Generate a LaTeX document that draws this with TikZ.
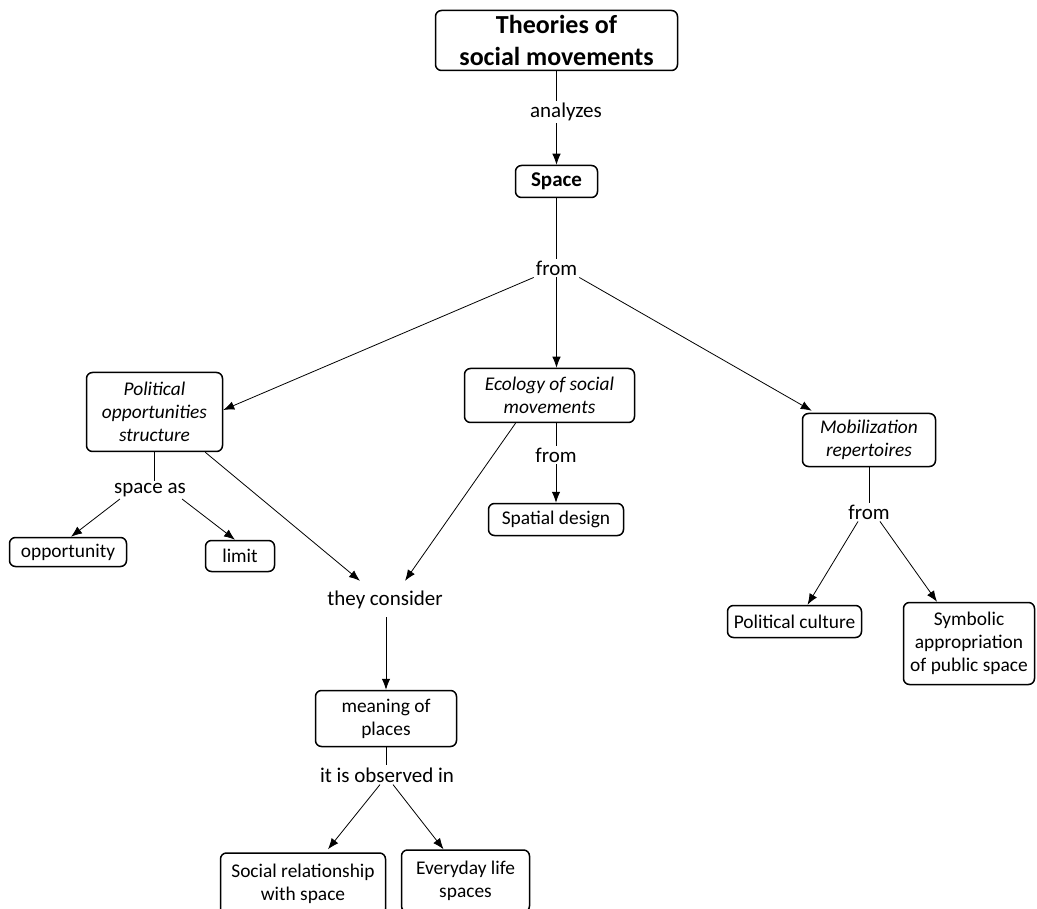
\documentclass[tikz,border=0pt]{standalone}
\usepackage{fontspec}
\setmainfont{Carlito}
\usetikzlibrary{arrows.meta}
\tikzset{
  box/.style={draw, line width=1.5pt, rounded corners=6pt, align=center, inner sep=0pt,
    font=\fontsize{19.4}{23}\selectfont},
  ibox/.style={box, font=\fontsize{19.4}{23}\selectfont\itshape},
  lab/.style={align=center, inner sep=2pt, font=\fontsize{21}{25}\selectfont},
  con/.style={line width=0.8pt},
  arr/.style={con, -{Latex[length=11pt,width=8.5pt]}}
}
\begin{document}
\begin{tikzpicture}[x=1pt,y=1pt]
\useasboundingbox (0,0) rectangle (1037,-909);
% boxes
\node[box, font=\fontsize{26}{32}\selectfont\bfseries, minimum width=242pt, minimum height=60pt] (title) at (556.5,-40.5) {Theories of\\social movements};
\node[box, font=\fontsize{21}{25}\selectfont\bfseries, minimum width=82pt, minimum height=32pt] (space) at (556.5,-181.5) {Space};
\node[ibox, minimum width=136pt, minimum height=79pt] (pol) at (154.5,-412) {Political\\opportunities\\structure};
\node[ibox, minimum width=170pt, minimum height=54pt] (eco) at (549.5,-395.5) {Ecology of social\\movements};
\node[ibox, minimum width=133pt, minimum height=53pt] (mob) at (869,-440) {Mobilization\\repertoires};
\node[box, minimum width=117pt, minimum height=29pt] (opp) at (68,-552) {opportunity};
\node[box, minimum width=69pt, minimum height=31pt] (limit) at (240,-556) {limit};
\node[box, minimum width=135pt, minimum height=32pt] (sd) at (556,-519.5) {Spatial design};
\node[box, minimum width=141pt, minimum height=56pt] (mean) at (386,-718.5) {meaning of\\places};
\node[box, minimum width=165pt, minimum height=62pt] (soc) at (303,-884) {Social relationship\\with space};
\node[box, minimum width=128pt, minimum height=62pt] (ev) at (465.5,-881) {Everyday life\\spaces};
\node[box, minimum width=134pt, minimum height=32pt] (pc) at (794.5,-621.5) {Political culture};
\node[box, minimum width=131pt, minimum height=82pt] (sym) at (969,-643.5) {Symbolic\\appropriation\\of public space};
% labels
\node[lab] (an) at (566,-112) {analyzes};
\node[lab] (from1) at (556.5,-268) {from};
\node[lab] (spas) at (150,-490) {space as};
\node[lab] (from2) at (556,-455) {from};
\node[lab] (from3) at (869,-512) {from};
\node[lab] (they) at (385,-600) {they consider};
\node[lab] (obs) at (387,-775) {it is observed in};
% connectors
\draw[con] (title.south) -- (title.south |- an.north);
\draw[arr] (title.south |- an.south) -- (space.north);
\draw[con] (space.south) -- (space.south |- from1.north);
\draw[arr] (from1.south west) -- ([yshift=2pt]pol.east);
\draw[arr] (from1.south) -- (from1.south |- eco.north);
\draw[arr] (from1.south east) -- ([xshift=10pt,yshift=2pt]mob.north west);
\draw[con] (pol.south) -- (pol.south |- spas.north);
\draw[arr] ([xshift=8pt]spas.south west) -- ([xshift=3pt]opp.north);
\draw[arr] ([xshift=-6pt]spas.south east) -- ([xshift=-5pt]limit.north);
\draw[arr] ([xshift=-18pt]pol.south east) -- ([xshift=-25pt,yshift=8pt]they.north);
\draw[arr] ([xshift=-34pt]eco.south) -- ([xshift=20pt,yshift=8pt]they.north);
\draw[con] (from2.north |- eco.south) -- (from2.north);
\draw[arr] (from2.south) -- (sd.north);
\draw[arr] ([yshift=-6pt]mean.north |- they.south) -- (mean.north);
\draw[con] (mean.south) -- (mean.south |- obs.north);
\draw[arr] ([xshift=-7pt]obs.south) -- ([xshift=25pt,yshift=3pt]soc.north);
\draw[arr] ([xshift=6pt]obs.south) -- ([xshift=-22pt]ev.north);
\draw[con] (mob.south) -- (from3.north);
\draw[arr] ([xshift=-11pt]from3.south) -- ([xshift=13pt]pc.north);
\draw[arr] ([xshift=11pt]from3.south) -- ([xshift=-32pt]sym.north);
\end{tikzpicture}
\end{document}
